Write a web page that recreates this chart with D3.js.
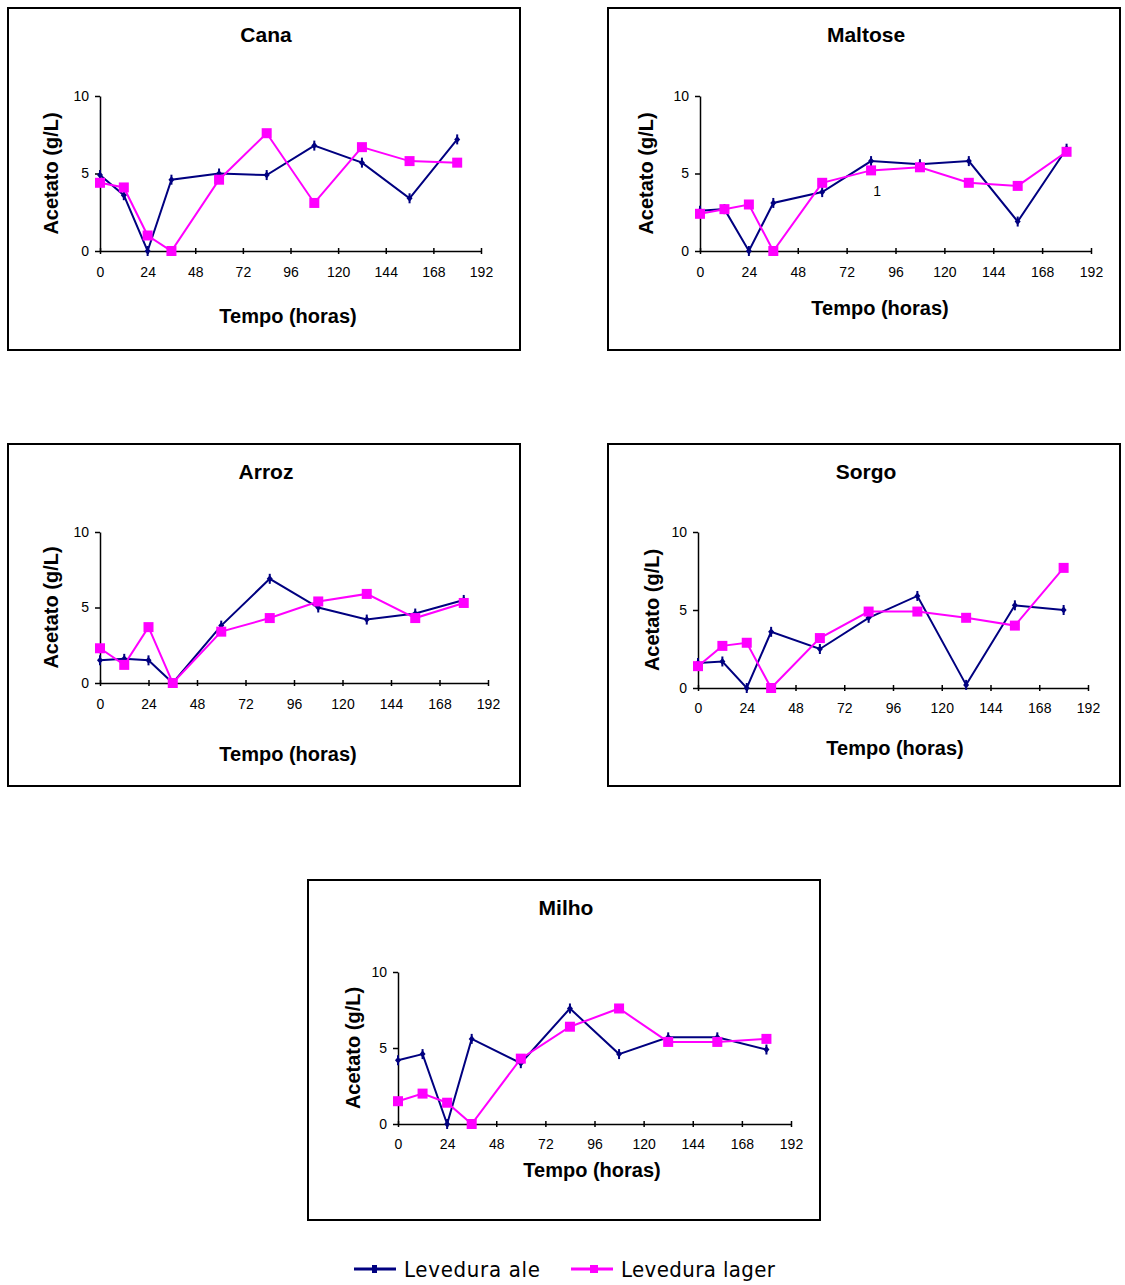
<!DOCTYPE html>
<html>
<head>
<meta charset="utf-8">
<script src="https://cdnjs.cloudflare.com/ajax/libs/d3/7.8.5/d3.min.js"></script>
<style>
  body { margin: 0; background: #fff; }
  text { font-family: "Liberation Sans", Arial, sans-serif; }
</style>
</head>
<body>
<div id="chart"></div>
<script>
// sample times (h)
const hours = [0, 12, 24, 36, 60, 84, 108, 132, 156, 180];
const xTicks = [0, 24, 48, 72, 96, 120, 144, 168, 192];
const yTicks = [0, 5, 10];

const canaAle     = [4.9, 3.6, 0, 4.6, 5.0, 4.9, 6.8, 5.7, 3.4, 7.2];
const canaLager   = [4.4, 4.1, 1.0, 0, 4.6, 7.6, 3.1, 6.7, 5.8, 5.7];
const maltoseAle  = [2.6, 2.7, 0, 3.1, 3.8, 5.8, 5.6, 5.8, 1.9, 6.6];
const maltoseLager= [2.4, 2.7, 3.0, 0, 4.4, 5.2, 5.4, 4.4, 4.2, 6.4];
const arrozAle    = [1.5, 1.6, 1.5, 0, 3.8, 6.9, 5.0, 4.2, 4.6, 5.5];
const arrozLager  = [2.3, 1.2, 3.7, 0, 3.4, 4.3, 5.4, 5.9, 4.3, 5.3];
const sorgoAle    = [1.6, 1.7, 0, 3.6, 2.5, 4.5, 5.9, 0.2, 5.3, 5.0];
const sorgoLager  = [1.4, 2.7, 2.9, 0, 3.2, 4.9, 4.9, 4.5, 4.0, 7.7];
const milhoAle    = [4.2, 4.6, 0, 5.6, 4.0, 7.6, 4.6, 5.7, 5.7, 4.9];
const milhoLager  = [1.5, 2.0, 1.4, 0, 4.3, 6.4, 7.6, 5.4, 5.4, 5.6];

const seriesNames = ["Levedura  ale", "Levedura lager"];
const aleColor = "#000080", lagerColor = "#ff00ff";

// panel layout
const panels = [
  {title: "Cana", ale: canaAle, lager: canaLager,
   box: [8, 8, 512, 342], x0: 100, x1: 481, yTop: 96, yBot: 251, tickY: 277, xTitleY: 323, xTitleX: 288, yTitleX: 58, titleY: 42},
  {title: "Maltose", ale: maltoseAle, lager: maltoseLager,
   box: [608, 8, 512, 342], x0: 700, x1: 1091, yTop: 96, yBot: 251, tickY: 277, xTitleY: 315, xTitleX: 880, yTitleX: 653, titleY: 42, note: {t: 84, v: 3.9, text: "1"}},
  {title: "Arroz", ale: arrozAle, lager: arrozLager,
   box: [8, 444, 512, 342], x0: 100, x1: 488, yTop: 532, yBot: 683, tickY: 709, xTitleY: 761, xTitleX: 288, yTitleX: 58, titleY: 479},
  {title: "Sorgo", ale: sorgoAle, lager: sorgoLager,
   box: [608, 444, 512, 342], x0: 698, x1: 1088, yTop: 532, yBot: 688, tickY: 713, xTitleY: 755, xTitleX: 895, yTitleX: 659, titleY: 479},
  {title: "Milho", ale: milhoAle, lager: milhoLager,
   box: [308, 880, 512, 340], x0: 398, x1: 791, yTop: 972, yBot: 1124, tickY: 1149, xTitleY: 1177, xTitleX: 592, yTitleX: 360, titleY: 915}
];

const svg = d3.select("#chart").append("svg")
  .attr("width", 1125).attr("height", 1285);

function aleMarker(g, x, y) {
  g.append("path")
    .attr("d", `M${x},${y - 3.5} L${x + 3},${y} L${x},${y + 3.5} L${x - 3},${y} Z`)
    .attr("fill", aleColor);
  g.append("line")
    .attr("x1", x).attr("x2", x).attr("y1", y - 5).attr("y2", y + 5)
    .attr("stroke", aleColor).attr("stroke-width", 2);
}

function lagerMarker(g, x, y) {
  g.append("rect")
    .attr("x", x - 5).attr("y", y - 5).attr("width", 10).attr("height", 10)
    .attr("fill", lagerColor);
}

panels.forEach(p => {
  const g = svg.append("g");
  g.append("rect")
    .attr("x", p.box[0]).attr("y", p.box[1]).attr("width", p.box[2]).attr("height", p.box[3])
    .attr("fill", "none").attr("stroke", "#000").attr("stroke-width", 2);

  g.append("text")
    .attr("x", p.box[0] + p.box[2] / 2 + 2).attr("y", p.titleY)
    .attr("text-anchor", "middle").style("font-size", "21px").style("font-weight", "bold")
    .text(p.title);

  const x = d3.scaleLinear().domain([0, 192]).range([p.x0, p.x1]);
  const y = d3.scaleLinear().domain([0, 10]).range([p.yBot, p.yTop]);

  // axes
  const xAxis = g.append("g").attr("transform", `translate(0,${p.yBot})`)
    .call(d3.axisBottom(x).tickValues(xTicks).tickSize(5).tickSizeOuter(0));
  const yAxis = g.append("g").attr("transform", `translate(${p.x0},0)`)
    .call(d3.axisLeft(y).tickValues(yTicks).tickSize(5).tickSizeOuter(0));
  [xAxis, yAxis].forEach(a => {
    a.select(".domain").attr("stroke", "#000").attr("stroke-width", 1.5);
    a.selectAll(".tick line").attr("stroke", "#000").attr("stroke-width", 1.5);
    a.selectAll(".tick text").style("font-size", "14px").style("font-family", "Liberation Sans, Arial, sans-serif").attr("fill", "#000");
  });
  xAxis.selectAll(".tick line").attr("y1", -3).attr("y2", 3);
  xAxis.selectAll(".tick text").attr("y", 0).attr("dy", null)
    .attr("transform", `translate(0,${p.tickY - p.yBot})`);
  yAxis.selectAll(".tick text").attr("x", -11);

  g.append("text")
    .attr("x", p.xTitleX).attr("y", p.xTitleY)
    .attr("text-anchor", "middle").style("font-size", "20px").style("font-weight", "bold")
    .text("Tempo (horas)");

  g.append("text")
    .attr("transform", `translate(${p.yTitleX},${(p.yTop + p.yBot) / 2}) rotate(-90)`)
    .attr("text-anchor", "middle").style("font-size", "20px").style("font-weight", "bold")
    .text("Acetato (g/L)");

  const line = d3.line().x(d => x(d[0])).y(d => y(d[1]));
  const alePts = hours.map((h, i) => [h, p.ale[i]]);
  const lagerPts = hours.map((h, i) => [h, p.lager[i]]);

  g.append("path").attr("d", line(alePts)).attr("fill", "none")
    .attr("stroke", aleColor).attr("stroke-width", 2);
  g.append("path").attr("d", line(lagerPts)).attr("fill", "none")
    .attr("stroke", lagerColor).attr("stroke-width", 2);

  alePts.forEach(d => aleMarker(g, x(d[0]), y(d[1])));
  lagerPts.forEach(d => lagerMarker(g, x(d[0]), y(d[1])));

  if (p.note) {
    g.append("text").attr("x", x(p.note.t) + 6).attr("y", y(p.note.v) + 5)
      .attr("text-anchor", "middle").style("font-size", "14px").text(p.note.text);
  }
});

// legend
const legend = svg.append("g");
const legendItems = [
  {name: seriesNames[0], color: aleColor, x: 354, marker: aleMarker},
  {name: seriesNames[1], color: lagerColor, x: 571, marker: lagerMarker}
];
legendItems.forEach(it => {
  legend.append("line").attr("x1", it.x).attr("x2", it.x + 42)
    .attr("y1", 1269).attr("y2", 1269).attr("stroke", it.color).attr("stroke-width", 3);
  if (it.marker === aleMarker) {
    legend.append("rect").attr("x", it.x + 18).attr("y", 1265).attr("width", 5).attr("height", 8).attr("fill", it.color);
  } else {
    legend.append("rect").attr("x", it.x + 19).attr("y", 1265).attr("width", 8).attr("height", 8).attr("fill", it.color);
  }
  legend.append("text").attr("x", it.x + 50).attr("y", 1277)
    .style("font-size", "22px").style("font-family", "'Liberation Sans Narrow', 'DejaVu Sans Condensed', sans-serif")
    .attr("textLength", it.marker === aleMarker ? 136 : 154)
    .text(it.name);
});
</script>
</body>
</html>
